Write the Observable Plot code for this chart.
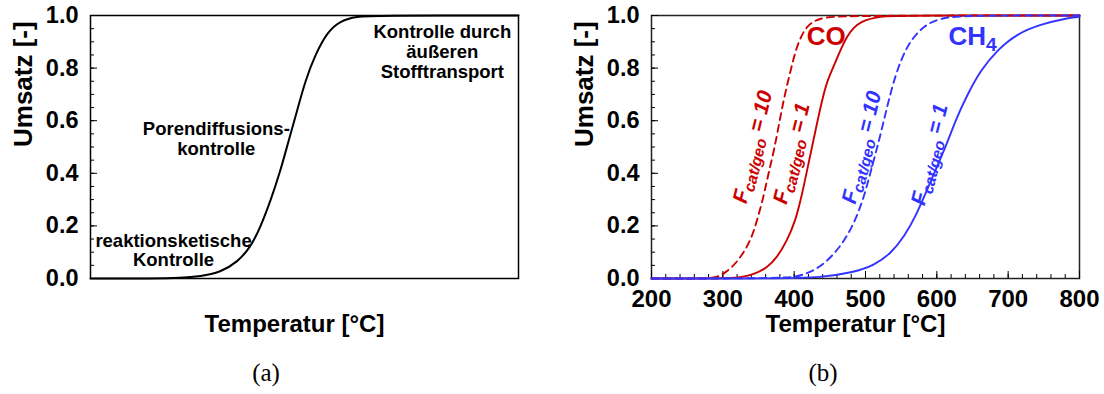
<!DOCTYPE html>
<html><head><meta charset="utf-8">
<script src="https://cdn.jsdelivr.net/npm/d3@7"></script>
<script src="https://cdn.jsdelivr.net/npm/@observablehq/plot@0.6"></script>
<style>
body{margin:0;background:#fff;}
#wrap{position:relative;width:1104px;height:394px;overflow:hidden;}
.panel{position:absolute;top:0;}
.cap{position:absolute;top:358px;font-family:"Liberation Serif","DejaVu Serif",serif;font-size:25px;line-height:30px;transform:translateX(-50%);}
</style></head><body>
<div id="wrap">
  <div id="a" class="panel" style="left:0"></div>
  <div id="b" class="panel" style="left:552px"></div>
  <div class="cap" style="left:266px">(a)</div>
  <div class="cap" style="left:823px">(b)</div>
</div>
<script>
// ---------- data ----------
// Panel (a): schematic conversion curve (x is a dimensionless temperature 0..100)
const schemX = [0, 15, 21, 25.7, 30.4, 34.3, 37.4, 39.7, 42.1, 44.4, 46.3, 48.3, 50.2, 52.6, 55.3, 58.4, 62.3, 66, 100];
const schemY = [0, 0, 0.002, 0.008, 0.024, 0.062, 0.119, 0.195, 0.297, 0.41, 0.525, 0.639, 0.753, 0.854, 0.937, 0.981, 0.996, 1.0, 1.0];
const annText = ["Kontrolle durch\näußeren\nStofftransport", "Porendiffusions-\nkontrolle", "reaktionsketische\nKontrolle"];
const annX = [82.2, 29.4, 19.4];
const annY = [0.863, 0.532, 0.108];

// Panel (b): CO and CH4 conversion vs temperature
const tCO10 = [200, 278, 290, 297, 311, 325, 339, 348, 357, 364, 372, 379, 386, 395, 404, 418, 437, 458, 800];
const xCO10 = [0, 0, 0.005, 0.011, 0.037, 0.08, 0.144, 0.22, 0.31, 0.40, 0.49, 0.59, 0.69, 0.79, 0.89, 0.966, 0.99, 1.0, 1.0];
const tCO1 = [200, 300, 325, 343, 362, 376, 390, 402, 411, 418, 425, 432, 439, 446, 456, 474, 493, 521, 550, 800];
const xCO1 = [0, 0, 0.004, 0.015, 0.04, 0.08, 0.144, 0.22, 0.32, 0.41, 0.50, 0.59, 0.676, 0.75, 0.81, 0.93, 0.98, 0.997, 1.0, 1.0];
const tCH10 = [200, 390, 409, 437, 465, 484, 498, 509, 519, 528, 537, 549, 563, 582, 605, 640, 800];
const xCH10 = [0, 0, 0.01, 0.04, 0.119, 0.208, 0.31, 0.424, 0.525, 0.626, 0.727, 0.829, 0.905, 0.962, 0.991, 1.0, 1.0];
const tCH1 = [200, 380, 437, 484, 512, 535, 554, 572, 586, 600, 614, 628, 643, 661, 684, 712, 745, 782, 800];
const xCH1 = [0, 0, 0.003, 0.024, 0.05, 0.094, 0.157, 0.246, 0.335, 0.424, 0.512, 0.613, 0.70, 0.79, 0.867, 0.93, 0.966, 0.99, 0.995];

const fLabels = ["F|cat/geo| = 10", "F|cat/geo| = 1", "F|cat/geo| = 10", "F|cat/geo| = 1"];
const fX = [343, 397.7, 495.8, 591];
const fY = [0.50, 0.475, 0.498, 0.471];
const fColor = ["#cc0000", "#cc0000", "#3333ff", "#3333ff"];
const specText = ["CO", "CH|4"];
const specX = [445, 650];
const specY = [0.918, 0.918];
const specColor = ["#cc0000", "#3333ff"];

const yTicks = [0, 0.2, 0.4, 0.6, 0.8, 1.0];
const yMinor = d3.range(0.05, 1, 0.05).map(d => +d.toFixed(2));
const xTicks = [200, 300, 400, 500, 600, 700, 800];
const xMinor = d3.range(220, 800, 20);

// ---------- layout ----------
const W = 552, H = 345, TOP = 15, BOTTOM = 278;
const plotH = BOTTOM - TOP;
const FONT = "Liberation Sans, Arial, Helvetica, sans-serif";
const style = {fontFamily: FONT, fontWeight: "bold", fontSize: "23px", color: "#000", background: "white", overflow: "visible"};

function zipLine(xs, ys) { return xs.map((x, i) => ({x, y: ys[i]})); }

function subscriptify(svg) {
  d3.select(svg).selectAll("text").each(function() {
    const t = this.textContent;
    if (!t.includes("|")) return;
    const parts = t.split("|");
    const el = d3.select(this);
    el.text(null);
    el.append("tspan").text(parts[0]);
    el.append("tspan").attr("dy", "0.3em").attr("font-size", "74%").text(parts[1]);
    if (parts[2]) el.append("tspan").attr("dy", "-0.3em").text(parts[2]);
  });
}

function yAxisMarks(plotW) {
  return [
    Plot.ruleY(yMinor, {y: d => d, insetRight: plotW - 4, stroke: "#000", strokeWidth: 1}),
    Plot.ruleY(yTicks, {y: d => d, insetRight: plotW - 7, stroke: "#000", strokeWidth: 1}),
    Plot.axisY({ticks: yTicks, tickSize: 0, tickPadding: 12, tickFormat: d => d.toFixed(1), label: null, fontSize: 23.5}),
    Plot.text(["Umsatz [-]"], {text: d => d, frameAnchor: "left", dx: -67, rotate: -90, fontSize: 26}),
    Plot.text(["Temperatur [°C]"], {text: d => d, frameAnchor: "bottom", dy: 53, dx: -10, fontSize: 24})
  ];
}

// ---------- panel (a) ----------
{
  const mL = 90, mR = 34;
  const plotW = W - mL - mR;
  const svg = Plot.plot({
    width: W, height: H, marginTop: TOP, marginBottom: H - BOTTOM, marginLeft: mL, marginRight: mR,
    style,
    x: {domain: [0, 100], axis: null},
    y: {domain: [0, 1], axis: null},
    marks: [
      Plot.frame({stroke: "#000", strokeWidth: 1.5}),
      ...yAxisMarks(plotW),
      Plot.line(zipLine(schemX, schemY), {x: "x", y: "y", stroke: "#000", strokeWidth: 2, curve: "basis"}),
      Plot.text(annText.map((t, i) => ({t, x: annX[i], y: annY[i]})), {x: "x", y: "y", text: "t", fontSize: 18.5, lineHeight: 1.08})
    ]
  });
  document.getElementById("a").appendChild(svg);
}

// ---------- panel (b) ----------
{
  const mL = 99, mR = 25;
  const plotW = W - mL - mR;
  const series = [
    {xs: tCO10, ys: xCO10, color: "#cc0000", dash: "7,5"},
    {xs: tCO1, ys: xCO1, color: "#cc0000", dash: null},
    {xs: tCH10, ys: xCH10, color: "#3333ff", dash: "7,5"},
    {xs: tCH1, ys: xCH1, color: "#3333ff", dash: null}
  ];
  const svg = Plot.plot({
    width: W, height: H, marginTop: TOP, marginBottom: H - BOTTOM, marginLeft: mL, marginRight: mR,
    style,
    x: {domain: [200, 800], axis: null},
    y: {domain: [0, 1], axis: null},
    marks: [
      Plot.frame({stroke: "#222", strokeWidth: 1.5}),
      ...yAxisMarks(plotW),
      Plot.ruleX(xMinor, {x: d => d, insetTop: plotH - 4, stroke: "#000", strokeWidth: 1}),
      Plot.ruleX(xTicks, {x: d => d, insetTop: plotH - 7, stroke: "#000", strokeWidth: 1}),
      Plot.axisX({ticks: xTicks, tickSize: 0, tickPadding: 11, label: null, fontSize: 24}),
      ...series.map(s => Plot.line(zipLine(s.xs, s.ys), {x: "x", y: "y", stroke: s.color, strokeWidth: 1.9, strokeDasharray: s.dash, curve: "basis"})),
      Plot.text(fLabels.map((t, i) => ({t, x: fX[i], y: fY[i], c: fColor[i]})), {x: "x", y: "y", text: "t", fill: "c", rotate: -76, fontSize: 21, fontStyle: "italic"}),
      Plot.text(specText.map((t, i) => ({t, x: specX[i], y: specY[i], c: specColor[i]})), {x: "x", y: "y", text: "t", fill: "c", fontSize: 26})
    ]
  });
  subscriptify(svg);
  document.getElementById("b").appendChild(svg);
}
</script>
</body></html>
